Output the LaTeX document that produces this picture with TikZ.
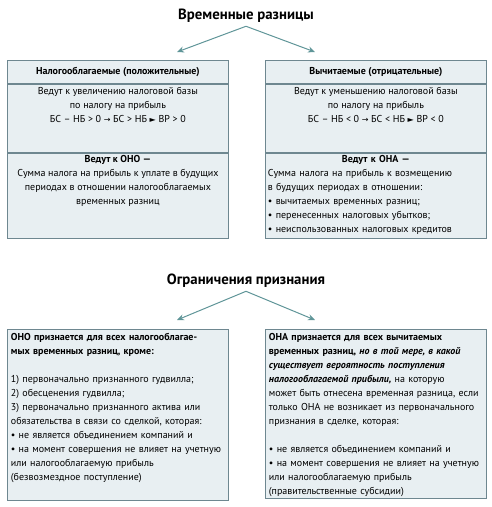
\documentclass[tikz,border=0pt]{standalone}
\usepackage{fontspec}
\setmainfont{PT Sans}
\newfontfamily\symfont{DejaVu Sans}
\usetikzlibrary{positioning,arrows.meta}
\definecolor{boxfill}{HTML}{E8EFF2}
\definecolor{boxline}{HTML}{6E8790}
\definecolor{arrowcol}{HTML}{5F9598}
\newcommand{\tri}{{\symfont\scalebox{0.8}{►}}}
\newcommand{\rarr}{{\symfont\scalebox{0.8}{→}}}
\begin{document}
\begin{tikzpicture}[x=1pt,y=-1pt,>={Stealth[length=7pt,width=6pt]},
	sect/.style={draw=boxline,fill=boxfill,line width=0.8pt,minimum width=221pt,anchor=north west,inner sep=0pt},
	txt/.style={anchor=north,align=center,inner sep=0pt,font=\fontsize{10}{14}\selectfont},
	ltxt/.style={txt,align=left,text width=214pt},
	title/.style={font=\fontsize{14.8}{16}\selectfont\bfseries},
	arr/.style={->,draw=arrowcol,line width=1pt}]
	\useasboundingbox (0,0) rectangle (492,507);
	% first row
	\node[title] (diff) at (246,16) {Временные разницы};
	\coordinate (pos end) at (177,52);
	\coordinate (neg end) at (315,52);
	\draw[arr] (diff.south) -- (pos end);
	\draw[arr] (diff.south) -- (neg end);
	% taxable differences
	\node[sect,minimum height=23pt] (pos head) at (7,60) {};
	\node[sect,minimum height=68pt] (pos mid) at (pos head.south west) {};
	\node[sect,minimum height=85pt] (pos low) at (pos mid.south west) {};
	\node[txt,font=\fontsize{10}{14}\selectfont\bfseries] (pos title) at (pos head.center) [anchor=center] {Налогооблагаемые (положительные)};
	\node[txt] (pos rule) at ([yshift=-3]pos mid.north) {Ведут к увеличению налоговой базы\\по налогу на прибыль\\БС – НБ > 0 \rarr{} БС > НБ \tri{} ВР > 0};
	\node[txt] (pos res) at ([yshift=-3]pos low.north) {\textbf{Ведут к ОНО —}\\Сумма налога на прибыль к уплате в будущих\\периодах в отношении налогооблагаемых\\временных разниц};
	% deductible differences
	\node[sect,minimum height=23pt] (neg head) at (265,60) {};
	\node[sect,minimum height=68pt] (neg mid) at (neg head.south west) {};
	\node[sect,minimum height=85pt] (neg low) at (neg mid.south west) {};
	\node[txt,font=\fontsize{10}{14}\selectfont\bfseries] (neg title) at (neg head.center) [anchor=center] {Вычитаемые (отрицательные)};
	\node[txt] (neg rule) at ([yshift=-3]neg mid.north) {Ведут к уменьшению налоговой базы\\по налогу на прибыль\\БС – НБ < 0 \rarr{} БС < НБ \tri{} ВР < 0};
	\node[txt,align=left,text width=216pt] (neg res) at ([yshift=-3]neg low.north) {\centerline{\textbf{Ведут к ОНА —}}\\Сумма налога на прибыль к возмещению\\в будущих периодах в отношении:\\• вычитаемых временных разниц;\\• перенесенных налоговых убытков;\\• неиспользованных налоговых кредитов};
	% second row
	\node[title] (limit) at (246,281) {Ограничения признания};
	\coordinate (ono end) at (177,320);
	\coordinate (ona end) at (315,320);
	\draw[arr] (limit.south) -- (ono end);
	\draw[arr] (limit.south) -- (ona end);
	\node[sect,minimum height=171pt] (ono box) at (7,329) {};
	\node[ltxt] (ono text) at ([yshift=-4]ono box.north) {\textbf{ОНО признается для всех налогооблагае-}\\\textbf{мых временных разниц, кроме:}\\[14pt]1) первоначально признанного гудвилла;\\2) обесценения гудвилла;\\3) первоначально признанного актива или\\обязательства в связи со сделкой, которая:\\• не является объединением компаний и\\• на момент совершения не влияет на учетную\\или налогооблагаемую прибыль\\(безвозмездное поступление)};
	\node[sect,minimum height=169pt] (ona box) at (265,329) {};
	\node[ltxt] (ona text) at ([yshift=-4]ona box.north) {\textbf{ОНА признается для всех вычитаемых}\\\textbf{временных разниц, \textit{но в той мере, в какой}}\\\textbf{\textit{существует вероятность поступления}}\\\textbf{\textit{налогооблагаемой прибыли,}} на которую\\может быть отнесена временная разница, если\\только ОНА не возникает из первоначального\\признания в сделке, которая:\\[14pt]• не является объединением компаний и\\• на момент совершения не влияет на учетную\\или налогооблагаемую прибыль\\(правительственные субсидии)};
\end{tikzpicture}
\end{document}
